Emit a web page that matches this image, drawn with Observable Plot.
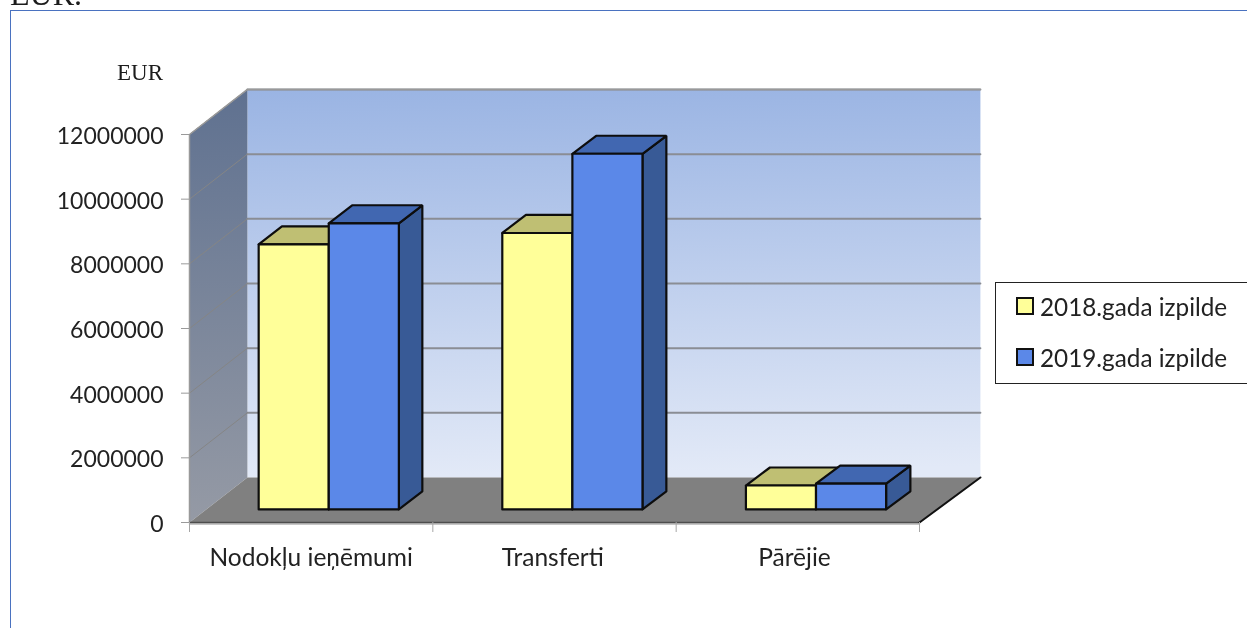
<!DOCTYPE html>
<html><head><meta charset="utf-8">
<script src="https://cdn.jsdelivr.net/npm/d3@7"></script>
<script src="https://cdn.jsdelivr.net/npm/@observablehq/plot@0.6"></script>
<style>
html,body{margin:0;padding:0;background:#fff;overflow:hidden}
#root{position:relative;width:1247px;height:628px;overflow:hidden;filter:blur(0.4px)}
#frame{position:absolute;left:10px;top:10px;width:1250px;height:640px;border:1px solid #4a72c0;box-sizing:border-box}
#chart{position:absolute;left:0;top:0}
.serif{position:absolute;font-family:"Liberation Serif",serif;line-height:1;color:#1c1c1c}
#legend{position:absolute;left:995px;top:282px;width:260px;height:102px;box-sizing:border-box;border:1.5px solid #222;background:#fff;font-family:Lato,sans-serif;font-size:24.3px;color:#222}
.row{position:absolute;left:20px;display:flex;align-items:center;height:24px}
.sw{width:14px;height:14px;border:2px solid #111;margin-right:6px;flex:none}
</style></head><body>
<div id="root">
<div id="frame"></div>
<div class="serif" style="left:10px;top:-22px;font-size:32px">EUR.</div>
<div id="chart"></div>
<div class="serif" style="left:117px;top:61px;font-size:23px">EUR</div>
<div id="legend"></div>
</div>
<script>
const categories = ["Nodokļu ieņēmumi", "Transferti", "Pārējie"];
const seriesNames = ["2018.gada izpilde", "2019.gada izpilde"];
const values2018 = [8200000, 8550000, 740000];
const values2019 = [8850000, 11000000, 800000];
const yTicks = [0, 2000000, 4000000, 6000000, 8000000, 10000000, 12000000];
const frontColors = ["#ffff99", "#5b88e8"];
const topColors = ["#bfbf73", "#4167b1"];
const sideColors = ["#bfbf73", "#385a96"];

// Oblique projection of the chart's 3-D box, expressed in scale units
const depthX = 0.238, depthY = 1393000, depthSpread = 0.0041;
const barDepthFront = 0.29, barDepthBack = 0.69, barInset = 0.215, barWidth = 0.2877;
const P = (u, v, d) => ({x: u * (1 + d * depthSpread) + d * depthX, y: v + d * depthY});
const yMax = 12000000, cols = categories.length;

const face = (pts) => pts.map(([u, v, d]) => P(u, v, d));
const closed = (pts, id) => { const f = face(pts); f.push(f[0]); return f.map(p => ({...p, id})); };

const backWall = closed([[0,0,1],[cols,0,1],[cols,yMax,1],[0,yMax,1]], "b");
const sideWall = closed([[0,0,0],[0,0,1],[0,yMax,1],[0,yMax,0]], "s");
const floor = closed([[0,0,0],[cols,0,0],[cols,0,1],[0,0,1]], "f");

const faces = (vals, s) => {
  const side = [], top = [], front = [];
  vals.forEach((v, i) => {
    const a = i + barInset + s * barWidth, b = a + barWidth, f = barDepthFront, k = barDepthBack;
    front.push(...closed([[a,0,f],[b,0,f],[b,v,f],[a,v,f]], i));
    top.push(...closed([[a,v,f],[b,v,f],[b,v,k],[a,v,k]], i));
    side.push(...closed([[b,0,f],[b,0,k],[b,v,k],[b,v,f]], i));
  });
  return {side, top, front};
};

const barMarks = [values2018, values2019].flatMap((vals, s) => {
  const {side, top, front} = faces(vals, s);
  const o = {x: "x", y: "y", z: "id", stroke: "#0d0d0d", strokeWidth: 2.2, strokeLinejoin: "miter"};
  return [
    Plot.line(side, {...o, fill: sideColors[s]}),
    Plot.line(top, {...o, fill: topColors[s]}),
    Plot.line(front, {...o, fill: frontColors[s]})
  ];
});

const gridBack = yTicks.filter(t => t > 0).flatMap(t => [{...P(0,t,1), id:t}, {...P(cols,t,1), id:t}]);
const gridSide = yTicks.filter(t => t > 0).flatMap(t => [{...P(0,t,0), id:t}, {...P(0,t,1), id:t}]);

const defs = () => {
  const d = d3.create("svg:defs");
  const g = (id, stops, x2 = 0) => {
    const lg = d.append("linearGradient").attr("id", id).attr("x1", 0).attr("y1", 0).attr("x2", x2).attr("y2", 1);
    stops.forEach((c, i) => lg.append("stop").attr("offset", i / (stops.length - 1)).attr("stop-color", c));
  };
  g("wallBack", ["#9ab4e3", "#e2e9f7"], 0.03);
  g("wallSide", ["#5f7190", "#959aa5"]);
  return d.node();
};

const chart = Plot.plot({
  width: 1247, height: 628,
  marginLeft: 189, marginRight: 328, marginTop: 134, marginBottom: 106,
  x: {type: "linear", domain: [0, cols], axis: null},
  y: {type: "linear", domain: [0, yMax], axis: null},
  style: {background: "transparent", fontFamily: "Lato, sans-serif", fontSize: "23px", color: "#222"},
  marks: [
    defs,
    Plot.line(backWall, {x: "x", y: "y", z: "id", fill: "url(#wallBack)"}),
    Plot.line(sideWall, {x: "x", y: "y", z: "id", fill: "url(#wallSide)"}),
    Plot.line(gridBack, {x: "x", y: "y", z: "id", stroke: "#8a8d94", strokeWidth: 2}),
    Plot.line(gridSide, {x: "x", y: "y", z: "id", stroke: "#858585", strokeWidth: 1}),
    Plot.line([P(0,0,0), P(0,yMax,0), P(0,yMax,1), P(cols,yMax,1)], {x: "x", y: "y", stroke: "#999", strokeWidth: 1.5}),
    Plot.line(floor, {x: "x", y: "y", z: "id", fill: "#808080"}),
    Plot.line([P(0,0,0), P(cols,0,0)], {x: "x", y: "y", dy: 1.5, stroke: "#b5b5b5", strokeWidth: 1.5}),
    Plot.line([P(0,0,0), P(cols,0,0)], {x: "x", y: "y", stroke: "#4d4d4d", strokeWidth: 1.5}),
    Plot.line([P(cols,0,0), P(cols,0,1)], {x: "x", y: "y", stroke: "#111", strokeWidth: 2}),
    ...barMarks,
    Plot.axisY({ticks: yTicks, tickFormat: () => "", tickSize: 8, stroke: "#9a9a9a", label: null}),
    Plot.axisY({ticks: yTicks, tickFormat: d3.format("d"), tickSize: 0, tickPadding: 26, dy: 2, stroke: "none", fill: "#222", fontSize: 23, label: null}),
    Plot.axisX({ticks: d3.range(cols + 1), tickFormat: () => "", tickSize: 10, stroke: "#a6a6a6", label: null}),
    Plot.text(categories, {x: (d, i) => i + 0.5 - i * 0.007, y: () => 0, dy: 36, text: d => d, fill: "#222", fontSize: 24.5})
  ]
});
document.getElementById("chart").append(chart);

const legend = document.getElementById("legend");
seriesNames.forEach((n, i) => {
  const r = document.createElement("div");
  r.className = "row";
  r.style.top = (11 + i * 51) + "px";
  const s = document.createElement("span"); s.className = "sw"; s.style.background = frontColors[i];
  const t = document.createElement("span"); t.textContent = n;
  r.append(s, t); legend.append(r);
});
</script>
</body></html>
